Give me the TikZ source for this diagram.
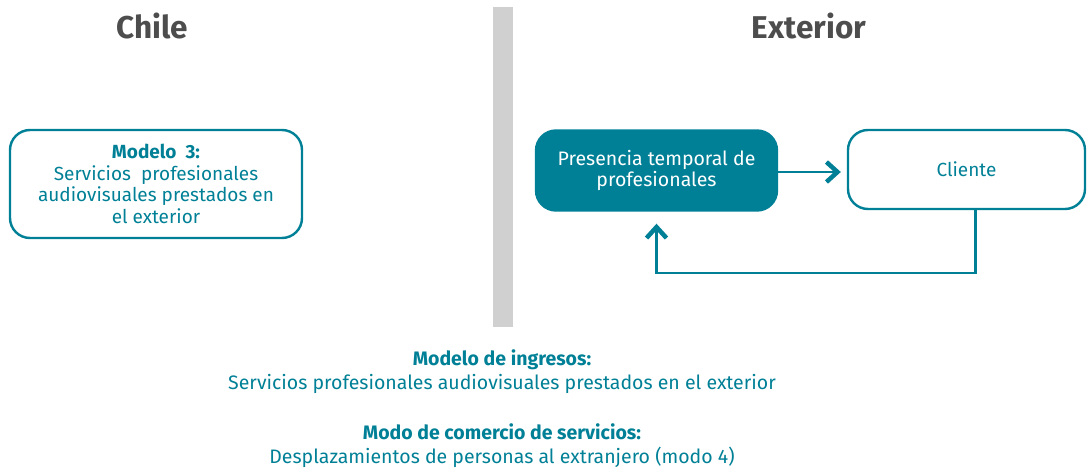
\documentclass[tikz,border=0pt]{standalone}
\usepackage{fontspec}
\setmainfont{Fira Sans}
\usetikzlibrary{arrows.meta,calc}
\definecolor{teal}{RGB}{0,128,150}
\definecolor{titlegray}{RGB}{77,77,77}
\definecolor{bargray}{RGB}{208,208,208}
\begin{document}
\begin{tikzpicture}[x=1pt,y=-1pt,
  title/.style={font=\fontsize{31.5}{34}\selectfont\bfseries, text=titlegray},
  box/.style={draw=teal, line width=2.4pt, rounded corners=20pt, align=center, text=teal,
    font=\fontsize{19}{21.7}\selectfont, inner sep=0pt},
  fbox/.style={box, fill=teal, text=white, font=\fontsize{19.5}{21}\selectfont},
  conn/.style={draw=teal, line width=2.7pt, -{Straight Barb[length=11pt,width=20pt,line width=4.5pt,sharp]}},
  txt/.style={text=teal, align=center, font=\fontsize{19.5}{24}\selectfont}]
\useasboundingbox (0,0) rectangle (1087,470);
\fill[bargray] (493,7) rectangle (513,327);
\node[title] (chile) at (152,26) {Chile};
\node[title] (ext) at (809,26) {Exterior};
\node[box, minimum width=292pt, minimum height=108pt] (m3) at (156,184)
  {\textbf{Modelo\ \ 3:}\\Servicios\ \ profesionales\\audiovisuales prestados en\\el exterior};
\node[fbox, minimum width=241pt, minimum height=80pt] (pres) at (656.5,170.5)
  {Presencia temporal de\\profesionales};
\node[box, minimum width=237pt, minimum height=79pt] (cli) at (966.5,169.5) {Cliente};
\coordinate (a1) at ($(pres.east)+(0,1.5)$);
\coordinate (a2) at ($(cli.west)+(-6,2.5)$);
\draw[conn] (a1) -- (a2);
\coordinate (c1) at ($(cli.south)+(9,0)$);
\coordinate (c2) at ($(pres.south)+(0,12)$);
\draw[conn] (c1) |- (656.5,273) -- (c2);
\node[txt] (ing) at (502,372) {\textbf{Modelo de ingresos:}\\Servicios profesionales audiovisuales prestados en el exterior};
\node[txt] (modo) at (502,446) {\textbf{Modo de comercio de servicios:}\\Desplazamientos de personas al extranjero (modo 4)};
\end{tikzpicture}
\end{document}
